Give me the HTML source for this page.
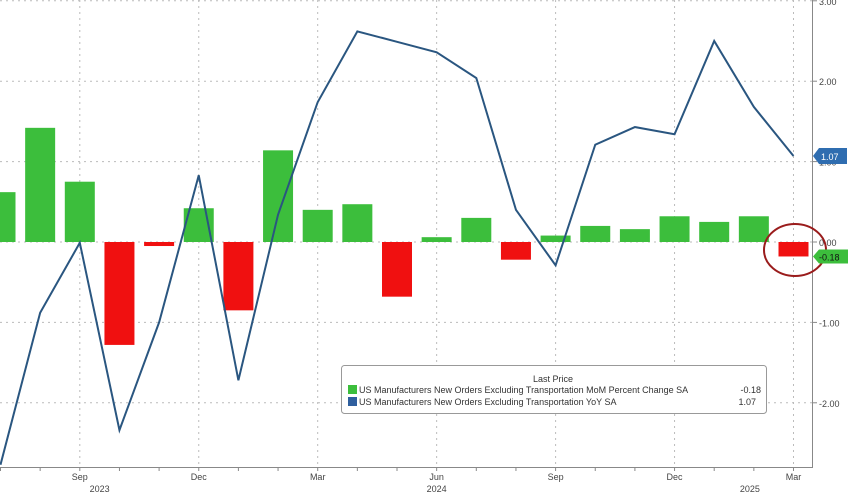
<!DOCTYPE html>
<html><head><meta charset="utf-8"><style>
body{margin:0;background:#fff;font-family:"Liberation Sans",sans-serif}
svg text{font-family:"Liberation Sans",sans-serif}
</style></head><body>
<svg id="c" width="848" height="495" viewBox="0 0 848 495"></svg>
<script>
const categories=["Jul 23","Aug 23","Sep 23","Oct 23","Nov 23","Dec 23","Jan 24","Feb 24","Mar 24","Apr 24","May 24","Jun 24","Jul 24","Aug 24","Sep 24","Oct 24","Nov 24","Dec 24","Jan 25","Feb 25","Mar 25"];
const momValues=[0.62,1.42,0.75,-1.28,-0.05,0.42,-0.85,1.14,0.40,0.47,-0.68,0.06,0.30,-0.22,0.08,0.20,0.16,0.32,0.25,0.32,-0.18];
const yoyValues=[-2.77,-0.88,-0.01,-2.34,-1.0,0.83,-1.72,0.34,1.74,2.62,2.49,2.36,2.04,0.40,-0.29,1.21,1.43,1.34,2.50,1.68,1.07];
const yTicks=[3,2,1,0,-1,-2];
const yTickLabels=["3.00","2.00","1.00","0.00","-1.00","-2.00"];
const monthLabels=[[2,"Sep"],[5,"Dec"],[8,"Mar"],[11,"Jun"],[14,"Sep"],[17,"Dec"],[20,"Mar"]];
const yearLabels=[[2.5,"2023"],[11,"2024"],[18.9,"2025"]];

const svg=document.getElementById('c');const NS="http://www.w3.org/2000/svg";
const x=i=>0.5+i*39.65;
const y=v=>242-v*80.4;
function mk(t,a,p){const e=document.createElementNS(NS,t);for(const k in a)e.setAttribute(k,a[k]);(p||svg).appendChild(e);return e;}
// grid
yTicks.forEach((v,i)=>{
 const g=mk('line',{x1:0,x2:812,y1:y(v),y2:y(v),stroke:'#bbb','stroke-dasharray':'2,4'});
 
 
 mk('line',{x1:812,x2:817,y1:y(v),y2:y(v),stroke:'#888'});
 const t=mk('text',{x:819,y:y(v)+4,'font-size':9,fill:'#444'});t.textContent=yTickLabels[i];
 
 
});
monthLabels.forEach(m=>{
 const g=mk('line',{x1:x(m[0]),x2:x(m[0]),y1:0,y2:467,stroke:'#bbb','stroke-dasharray':'2,4'});
 
 
 const t=mk('text',{x:x(m[0]),y:480,'font-size':9,fill:'#444','text-anchor':'middle'});t.textContent=m[1];
 
 
});
categories.forEach((c,i)=>mk('line',{x1:x(i),x2:x(i),y1:467,y2:471,stroke:'#888'}));
yearLabels.forEach(m=>{
 const t=mk('text',{x:x(m[0]),y:492,'font-size':9,fill:'#444','text-anchor':'middle'});t.textContent=m[1];
 
 
});
// bars
momValues.forEach((v,i)=>{
 const b=mk('rect',{x:x(i)-15,y:Math.min(y(v),y(0)),width:30,height:Math.abs(y(v)-y(0)),fill:v>=0?'#3cbe3c':'#f01010'});
 
 
});
// line
const pl=mk('polyline',{points:yoyValues.map((v,i)=>x(i)+','+y(v)).join(' '),fill:'none',stroke:'#2a5680','stroke-width':2});


// axes
mk('line',{x1:812.5,x2:812.5,y1:0,y2:467,stroke:'#888'});
mk('line',{x1:0,x2:813,y1:467.5,y2:467.5,stroke:'#888'});
// circle
const ci=mk('ellipse',{cx:795,cy:250,rx:31,ry:26,fill:'none',stroke:'#9a1c1c','stroke-width':2});


// last value tags
const t1=mk('g',{});
mk('path',{d:`M813 ${y(1.07)} l6 -8 h28 v16 h-28 z`,fill:'#2f6db0'},t1);
const tt1=mk('text',{x:821,y:y(1.07)+4,'font-size':9,fill:'#fff'},t1);tt1.textContent="1.07";
const t2=mk('g',{});
mk('path',{d:`M813 ${y(-0.18)} l6 -7 h29 v14 h-29 z`,fill:'#3cbe3c'},t2);
const tt2=mk('text',{x:819,y:y(-0.18)+4,'font-size':9,fill:'#111'},t2);tt2.textContent="-0.18";
// legend
const lg=mk('g',{});
mk('rect',{x:341.5,y:365.5,width:425,height:48,rx:3,fill:'#fff',stroke:'#999'},lg);
const lt=mk('text',{x:553,y:382,'font-size':9,fill:'#333','text-anchor':'middle'},lg);lt.textContent="Last Price";
mk('rect',{x:348,y:385,width:9,height:9,fill:'#3cbe3c'},lg);
const l1=mk('text',{x:359,y:393,'font-size':9,fill:'#333'},lg);l1.textContent="US Manufacturers New Orders Excluding Transportation MoM Percent Change SA";

const v1=mk('text',{x:761,y:393,'font-size':9,fill:'#333','text-anchor':'end'},lg);v1.textContent="-0.18";
mk('rect',{x:348,y:397,width:9,height:9,fill:'#2f5f9e'},lg);
const l2=mk('text',{x:359,y:405,'font-size':9,fill:'#333'},lg);l2.textContent="US Manufacturers New Orders Excluding Transportation YoY SA";

const v2=mk('text',{x:756,y:405,'font-size':9,fill:'#333','text-anchor':'end'},lg);v2.textContent="1.07";
</script>
</body></html>
